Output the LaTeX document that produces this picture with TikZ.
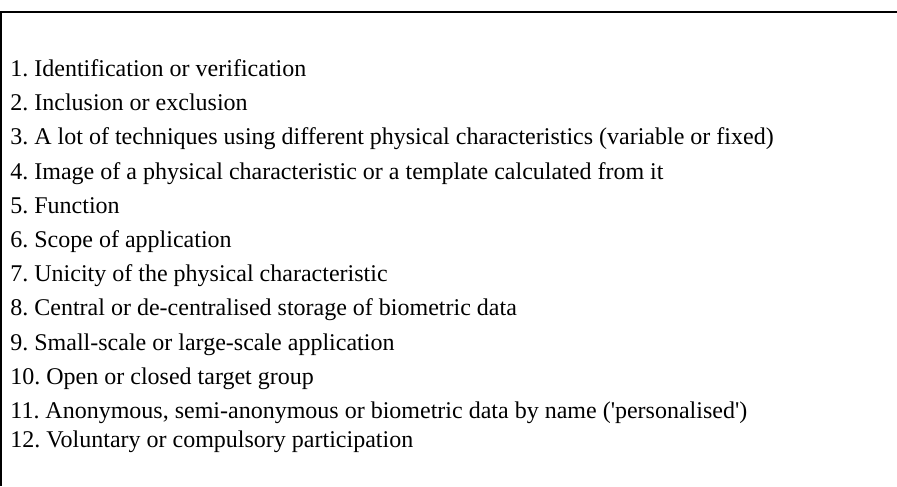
\documentclass[tikz,border=0pt]{standalone}
\usepackage{fontspec}
\setmainfont{Liberation Serif}
\usepackage{tikz}
\usetikzlibrary{positioning}
\frenchspacing

\tikzset{
  entry/.style={anchor=base west, inner sep=0pt, font=\fontsize{12}{14}\selectfont},
  frameline/.style={line width=1pt, draw=black}
}

\begin{document}
\begin{tikzpicture}[x=0.5pt, y=-0.5pt]
  \useasboundingbox (0,0) rectangle (897,486);
  % open frame: left and top edge only
  \draw[frameline] (1,486) -- (1,11.8) -- (897,11.8);

  \node[entry] (item1)  at (10,76.5)  {1. Identification or verification};
  \node[entry] (item2)  at (10,110.7) {2. Inclusion or exclusion};
  \node[entry] (item3)  at (10,144.9) {3. A lot of techniques using different physical characteristics (variable or fixed)};
  \node[entry] (item4)  at (10,179.1) {4. Image of a physical characteristic or a template calculated from it};
  \node[entry] (item5)  at (10,213.3) {5. Function};
  \node[entry] (item6)  at (10,247.5) {6. Scope of application};
  \node[entry] (item7)  at (10,281.7) {7. Unicity of the physical characteristic};
  \node[entry] (item8)  at (10,315.9) {8. Central or de-centralised storage of biometric data};
  \node[entry] (item9)  at (10,350.1) {9. Small-scale or large-scale application};
  \node[entry] (item10) at (10,384.3) {10. Open or closed target group};
  \node[entry] (item11) at (10,418.5) {11. Anonymous, semi-anonymous or biometric data by name (\textquotesingle personalised\textquotesingle)};
  \node[entry] (item12) at (10,447.5) {12. Voluntary or compulsory participation};
\end{tikzpicture}
\end{document}
